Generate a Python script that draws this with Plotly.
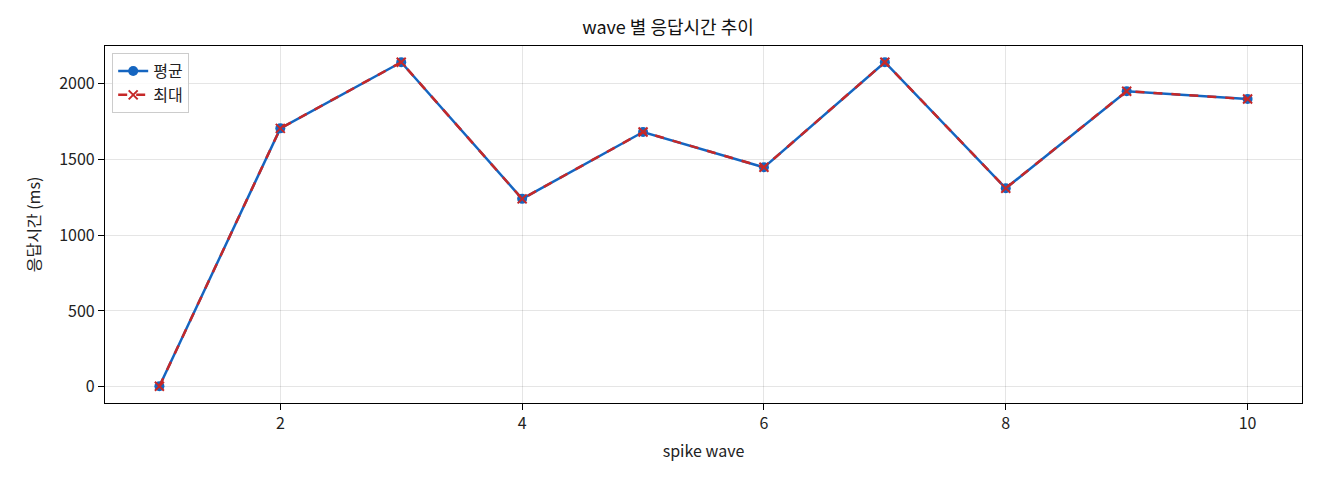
import plotly.graph_objects as go

# spike wave 별 응답시간 (ms)
waves = [1, 2, 3, 4, 5, 6, 7, 8, 9, 10]
avg_ms = [3, 1704, 2140, 1239, 1680, 1447, 2140, 1309, 1949, 1897]
max_ms = [3, 1704, 2140, 1239, 1680, 1447, 2140, 1309, 1949, 1897]

FONT = "Noto Sans CJK KR, Inter, sans-serif"

fig = go.Figure()

fig.add_trace(go.Scatter(
    x=waves, y=avg_ms, name="평균", mode="lines+markers",
    line=dict(color="#1565C0", width=2.5),
    marker=dict(symbol="circle", size=10, color="#1565C0"),
))
fig.add_trace(go.Scatter(
    x=waves, y=max_ms, name="최대", mode="lines+markers",
    line=dict(color="#C62828", width=2.5, dash="dash"),
    marker=dict(symbol="x-thin", size=9, color="#C62828",
                line=dict(color="#C62828", width=2)),
))

axis_common = dict(
    showline=True, linecolor="black", linewidth=1.2, mirror=True,
    showgrid=True, gridcolor="rgba(0,0,0,0.1)", gridwidth=1,
    ticks="outside", ticklen=6, tickcolor="black",
    tickfont=dict(size=16, color="#222"), zeroline=False,
)

# page is shifted 8px by the body margin, so margins compensate
fig.update_layout(
    width=1320, height=480,
    paper_bgcolor="white", plot_bgcolor="white",
    font=dict(family=FONT, color="#222"),
    margin=dict(l=97, r=26, t=38, b=85),
    title=dict(text="wave 별 응답시간 추이", x=0.5, xanchor="center",
               y=0.958, yanchor="middle", font=dict(size=18, color="#111")),
    xaxis=dict(axis_common, range=[0.55, 10.45], tickvals=[2, 4, 6, 8, 10],
               title=dict(text="spike wave", font=dict(size=16), standoff=12)),
    yaxis=dict(axis_common, range=[-107, 2247], tickvals=[0, 500, 1000, 1500, 2000],
               title=dict(text="응답시간 (ms)", font=dict(size=16), standoff=14)),
    legend=dict(x=0.006, y=0.98, xanchor="left", yanchor="top",
                bgcolor="rgba(255,255,255,0.8)", bordercolor="#ccc", borderwidth=1,
                font=dict(size=16), tracegroupgap=4),
    showlegend=True,
)

fig.write_html("out.html")
